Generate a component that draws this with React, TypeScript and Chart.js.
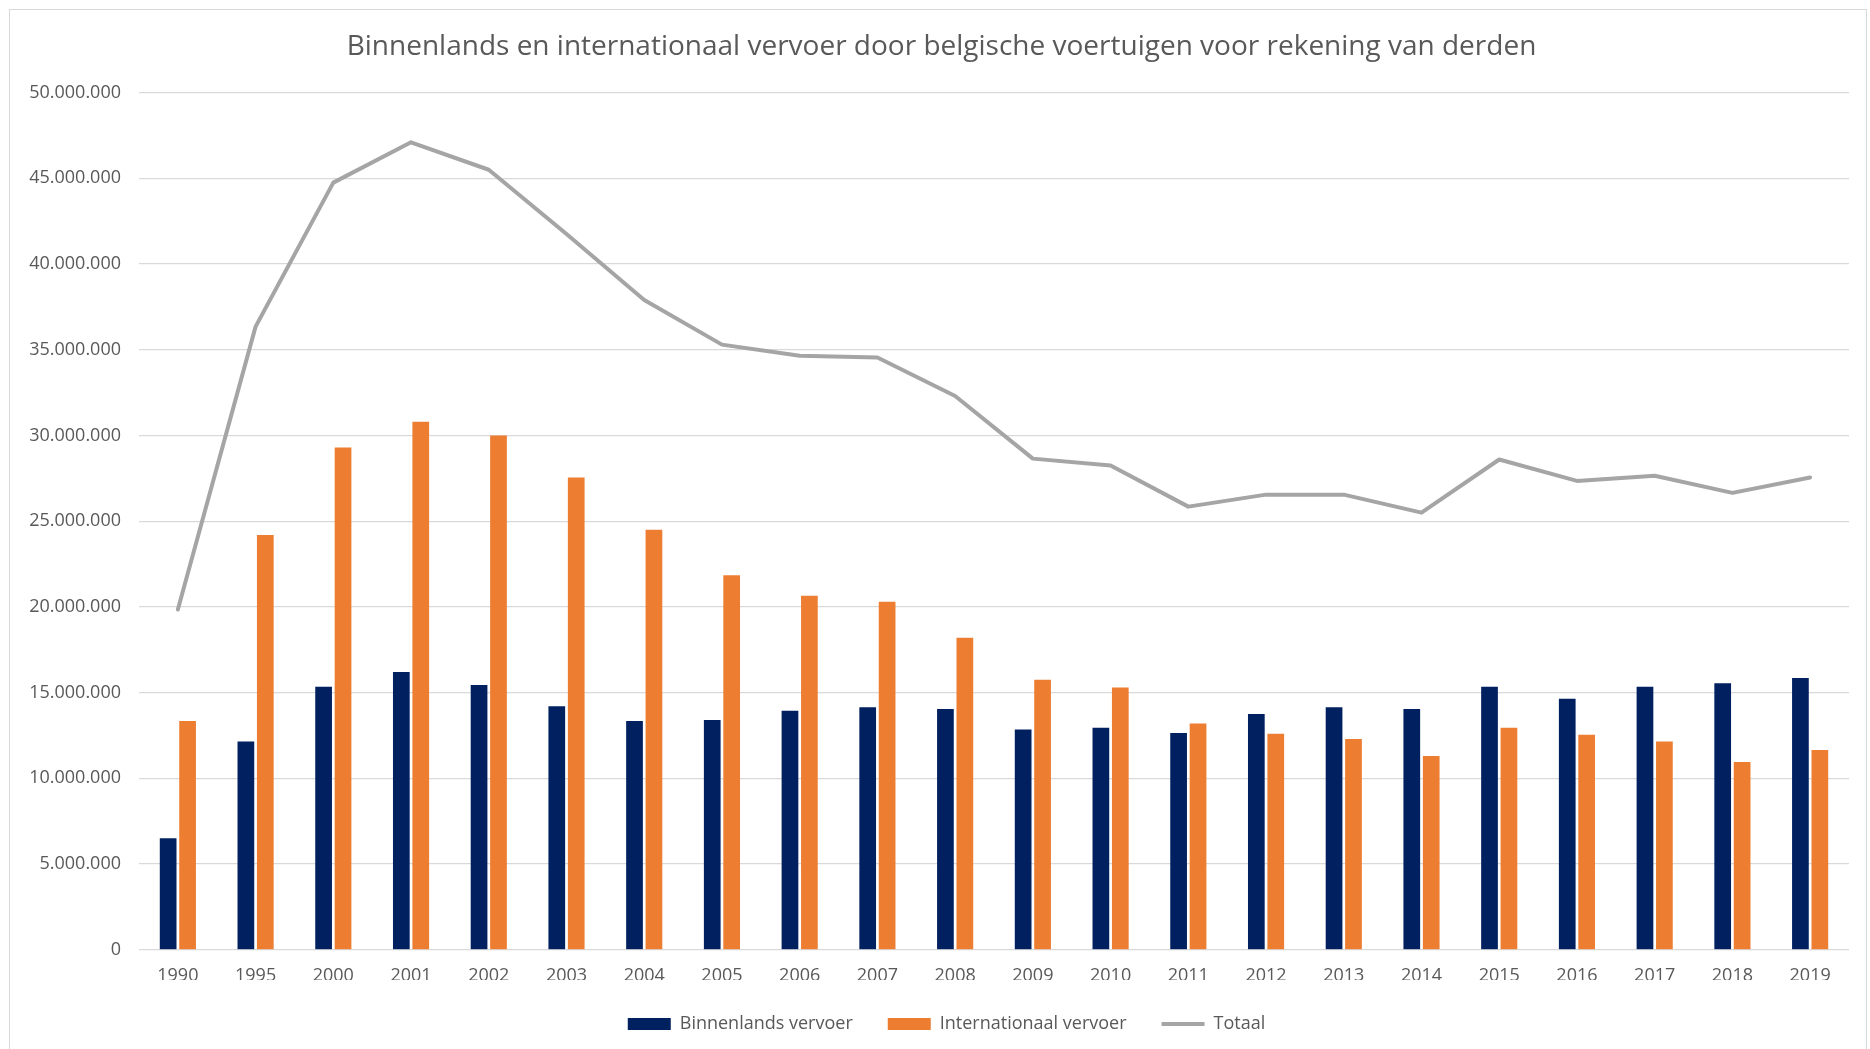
import React, { useEffect, useRef } from 'react';
import { Chart, registerables } from 'chart.js';

Chart.register(...registerables);

const categories = ['1990', '1995', '2000', '2001', '2002', '2003', '2004', '2005', '2006', '2007', '2008', '2009', '2010', '2011', '2012', '2013', '2014', '2015', '2016', '2017', '2018', '2019'];

const binnenlands = [6500000, 12150000, 15350000, 16200000, 15450000, 14200000, 13350000, 13400000, 13950000, 14150000, 14050000, 12850000, 12950000, 12650000, 13750000, 14150000, 14050000, 15350000, 14650000, 15350000, 15550000, 15850000];

const internationaal = [13350000, 24200000, 29300000, 30800000, 30000000, 27550000, 24500000, 21850000, 20650000, 20300000, 18200000, 15750000, 15300000, 13200000, 12600000, 12300000, 11300000, 12950000, 12550000, 12150000, 10950000, 11650000];

const totaal = [19850000, 36350000, 44750000, 47100000, 45500000, 41750000, 37900000, 35300000, 34650000, 34550000, 32300000, 28650000, 28250000, 25850000, 26550000, 26550000, 25500000, 28600000, 27350000, 27650000, 26650000, 27550000];

const yMin = 0;
const yMax = 50000000;
const yStep = 5000000;

const seriesLabels = ['Binnenlands vervoer', 'Internationaal vervoer', 'Totaal'];
const titleText = 'Binnenlands en internationaal vervoer door belgische voertuigen voor rekening van derden';

const formatNum = (v: number) => String(Math.round(v)).replace(/\B(?=(\d{3})+(?!\d))/g, '.');

const shiftPlugin = {
  id: 'shiftBlocks',
  afterLayout(chart: any) {
    const t = chart.titleBlock;
    if (t) {
      t.left += 12;
      t.right += 12;
    }
    const l = chart.legend;
    if (l) {
      l.left += 17;
      l.right += 17;
    }
  },
};

export default function App() {
  const ref = useRef<HTMLCanvasElement>(null);

  useEffect(() => {
    document.body.style.margin = '0';
    const canvas = ref.current!;
    const chart = new Chart(canvas, {
      type: 'bar',
      data: {
        labels: categories,
        datasets: [
          {
            type: 'bar',
            label: seriesLabels[0],
            data: binnenlands,
            backgroundColor: '#002060',
            borderWidth: 0,
            categoryPercentage: 0.5,
            barPercentage: 0.86,
            order: 2,
          },
          {
            type: 'bar',
            label: seriesLabels[1],
            data: internationaal,
            backgroundColor: '#ED7D31',
            borderWidth: 0,
            categoryPercentage: 0.5,
            barPercentage: 0.86,
            order: 2,
          },
          {
            type: 'line',
            label: seriesLabels[2],
            data: totaal,
            borderColor: '#A5A5A5',
            backgroundColor: '#A5A5A5',
            borderWidth: 4,
            pointRadius: 0,
            pointHoverRadius: 0,
            tension: 0,
            borderJoinStyle: 'round',
            borderCapStyle: 'round',
            order: 1,
          } as any,
        ],
      },
      plugins: [shiftPlugin],
      options: {
        responsive: false,
        animation: false,
        devicePixelRatio: 1,
        font: { family: "'Open Sans', sans-serif" },
        layout: { padding: { left: 10, right: 21, top: 0, bottom: 6 } },
        plugins: {
          title: {
            display: true,
            text: titleText,
            color: '#595959',
            font: { family: "'Open Sans', sans-serif", size: 28, weight: 'normal' },
            padding: { top: 30, bottom: 29 },
          },
          legend: {
            display: true,
            position: 'bottom',
            labels: {
              color: '#595959',
              font: { family: "'Open Sans', sans-serif", size: 18 },
              usePointStyle: true,
              pointStyleWidth: 43,
              boxHeight: 12,
              padding: 35,
              generateLabels: (ch: any) => {
                return ch.data.datasets.map((ds: any, i: number) => {
                  const isLine = ds.type === 'line';
                  return {
                    text: ds.label,
                    fillStyle: isLine ? ds.borderColor : ds.backgroundColor,
                    strokeStyle: isLine ? ds.borderColor : ds.backgroundColor,
                    lineWidth: isLine ? 4 : 0,
                    pointStyle: isLine ? 'line' : 'rect',
                    fontColor: '#595959',
                    hidden: false,
                    datasetIndex: i,
                  };
                });
              },
            },
          },
          tooltip: { enabled: false },
        },
        scales: {
          x: {
            grid: { display: false, drawTicks: false },
            border: { display: false },
            ticks: {
              color: '#595959',
              font: { family: "'Open Sans', sans-serif", size: 18 },
              padding: 15,
              maxRotation: 0,
              autoSkip: false,
            },
            afterFit: (scale: any) => {
              scale.height = 30.2;
            },
          },
          y: {
            min: yMin,
            max: yMax,
            grid: { color: '#D9D9D9', lineWidth: 1.3, drawTicks: false },
            border: { display: false },
            ticks: {
              stepSize: yStep,
              color: '#595959',
              font: { family: "'Open Sans', sans-serif", size: 18 },
              padding: 18,
              callback: (v: any) => formatNum(Number(v)),
            },
            afterFit: (scale: any) => {
              scale.width = 129;
            },
          },
        },
      },
    } as any);
    return () => chart.destroy();
  }, []);

  return (
    <div style={{ position: 'relative', width: 1870, height: 1049, overflow: 'hidden', background: '#fff' }}>
      <div
        style={{
          position: 'absolute',
          left: 9,
          top: 9,
          width: 1858,
          height: 1070,
          border: '1px solid #D9D9D9',
          boxSizing: 'border-box',
        }}
      />
      <canvas
        ref={ref}
        width={1870}
        height={1049}
        style={{ position: 'absolute', left: 0, top: 0, width: 1870, height: 1049 }}
      />
    </div>
  );
}
